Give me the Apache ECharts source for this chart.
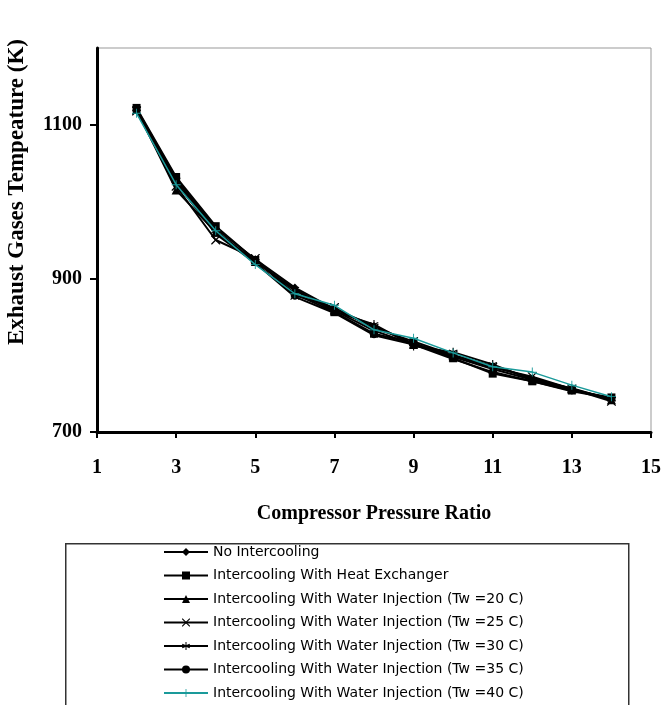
<!DOCTYPE html>
<html>
<head>
<meta charset="utf-8">
<script src="https://cdn.jsdelivr.net/npm/echarts@6/dist/echarts.min.js"></script>
<style>
  html, body { margin: 0; padding: 0; background: #fff; }
  #chart { width: 664px; height: 705px; }
</style>
</head>
<body>
<div id="chart"></div>
<script>
// compressor pressure ratio
var ratios = [2, 3, 4, 5, 6, 7, 8, 9, 10, 11, 12, 13, 14];
var yTicks = [700, 900, 1100];

// exhaust gases temperature (K)
var noIntercooling = [1120, 1030, 965, 925, 888, 860, 838, 815, 800, 786, 770, 756, 743];
var heatExchanger  = [1122, 1032, 968, 924, 880, 856, 828, 816, 796, 776, 766, 754, 745];
var water20 = [1120, 1015, 960, 922, 884, 858, 832, 814, 798, 782, 768, 757, 742];
var water25 = [1118, 1020, 950, 926, 878, 862, 835, 818, 800, 784, 772, 756, 740];
var water30 = [1121, 1028, 962, 922, 886, 857, 840, 812, 804, 788, 768, 755, 743];
var water35 = [1119, 1025, 958, 920, 876, 855, 826, 814, 795, 778, 766, 753, 744];
var water40 = [1115, 1022, 962, 918, 880, 865, 833, 822, 803, 785, 778, 761, 746];

var seriesNames = [
  'No Intercooling',
  'Intercooling With Heat Exchanger',
  'Intercooling With Water Injection (Tw =20 C)',
  'Intercooling With Water Injection (Tw =25 C)',
  'Intercooling With Water Injection (Tw =30 C)',
  'Intercooling With Water Injection (Tw =35 C)',
  'Intercooling With Water Injection (Tw =40 C)'
];

var crossX = 'path://M0,0L10,10M10,0L0,10M0,0L1,0L10,9L10,10L9,10L0,1ZM10,0L10,1L1,10L0,10L0,9L9,0Z';
var plus = 'path://M4.5,0L5.5,0L5.5,4.5L10,4.5L10,5.5L5.5,5.5L5.5,10L4.5,10L4.5,5.5L0,5.5L0,4.5L4.5,4.5Z';
var star = 'path://M4.4,0L5.6,0L5.6,3.8L9.2,2.2L9.7,3.3L6.2,5L9.7,6.7L9.2,7.8L5.6,6.2L5.6,10L4.4,10L4.4,6.2L0.8,7.8L0.3,6.7L3.8,5L0.3,3.3L0.8,2.2L4.4,3.8Z';

var symbols = ['diamond', 'rect', 'triangle', crossX, star, 'circle', plus];
var sizes = [8, 8, 9, 9, 9, 6, 9];
var colors = ['#000', '#000', '#000', '#000', '#000', '#000', '#1a9a9a'];
var values = [noIntercooling, heatExchanger, water20, water25, water30, water35, water40];

function pairs(v) {
  return ratios.map(function (r, i) { return [r, v[i]]; });
}

var series = [];
for (var k = 0; k < values.length; k++) {
  series.push({
    name: seriesNames[k],
    type: 'line',
    data: pairs(values[k]),
    symbol: symbols[k],
    symbolSize: sizes[k],
    color: colors[k],
    lineStyle: { color: colors[k], width: k === 6 ? 1.5 : 2 },
    itemStyle: { color: colors[k] },
    z: k === 6 ? 10 : 2
  });
}

var chart = echarts.init(document.getElementById('chart'));
chart.setOption({
  animation: false,
  backgroundColor: '#fff',
  grid: {
    left: 97, right: 9, top: 48, bottom: 273,
    show: true, borderColor: '#999', borderWidth: 1
  },
  xAxis: {
    type: 'value', min: 1, max: 15, interval: 2,
    name: 'Compressor Pressure Ratio',
    nameLocation: 'middle', nameGap: 72,
    nameTextStyle: { fontFamily: 'Liberation Serif', fontWeight: 'bold', fontSize: 20, color: '#000' },
    axisLine: { lineStyle: { color: '#000', width: 3 } },
    axisTick: { length: 6, lineStyle: { color: '#000', width: 2 } },
    axisLabel: { fontFamily: 'Liberation Serif', fontWeight: 'bold', fontSize: 20, color: '#000', margin: 26 },
    splitLine: { show: false }
  },
  yAxis: {
    type: 'value', min: 700, max: 1200, interval: 200,
    axisLine: { show: true, lineStyle: { color: '#000', width: 3 } },
    axisTick: { show: true, length: 7, customValues: yTicks, lineStyle: { color: '#000', width: 2 } },
    axisLabel: {
      fontFamily: 'Liberation Serif', fontWeight: 'bold', fontSize: 20, color: '#000', margin: 15,
      customValues: yTicks,
      formatter: function (v) { return String(v); }
    },
    splitLine: { show: false }
  },
  legend: {
    orient: 'vertical', left: 158, top: 540, height: 200,
    itemWidth: 44, itemHeight: 10, itemGap: 9.5,
    textStyle: { fontFamily: 'DejaVu Sans', fontSize: 14, color: '#000' },
    data: seriesNames
  },
  graphic: [
    {
      type: 'rect', left: 65, top: 543, z: -1,
      shape: { width: 563, height: 170 },
      style: { fill: '#fff', stroke: '#333', lineWidth: 1.5 }
    },
    {
      type: 'text', x: 17, y: 192, rotation: Math.PI / 2,
      style: {
        text: 'Exhaust Gases Tempeature (K)',
        fontFamily: 'Liberation Serif', fontWeight: 'bold', fontSize: 23, fill: '#000',
        align: 'center', verticalAlign: 'middle'
      }
    }
  ],
  series: series
});
</script>
</body>
</html>
